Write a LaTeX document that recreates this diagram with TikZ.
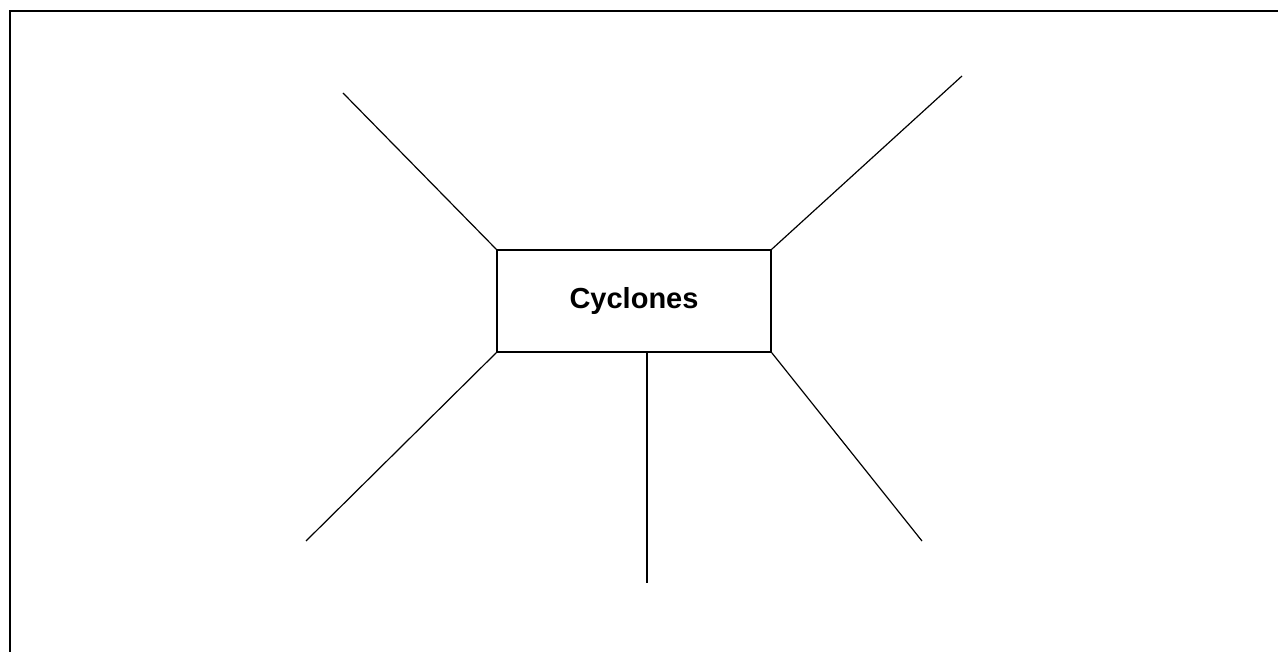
\documentclass[tikz,border=0pt]{standalone}
\usepackage{fontspec}
\setmainfont{Liberation Sans}
\begin{document}
\begin{tikzpicture}[x=1pt,y=-1pt,
    spoke/.style={line width=1.2pt},
    topic/.style={draw,line width=1.6pt,inner sep=0pt,
      minimum width=274pt,minimum height=102pt,
      font=\fontsize{29}{34}\selectfont\bfseries}]
		\useasboundingbox (0,0) rectangle (1278,652);
		\draw[line width=1.8pt] (10,660) -- (10,11) -- (1290,11);
		\node[topic] (cyclones) at (634,301) {Cyclones};
		\coordinate (ul) at (343,93);
		\coordinate (ur) at (962,76);
		\coordinate (ll) at (306,541);
		\coordinate (lr) at (922,541);
		\coordinate (bot) at (647,583);
		\draw[spoke] (cyclones.north west) -- (ul);
		\draw[spoke] (cyclones.north east) -- (ur);
		\draw[spoke] (cyclones.south west) -- (ll);
		\draw[spoke] (cyclones.south east) -- (lr);
		\draw[spoke] (cyclones.south -| bot) -- (bot);
	\end{tikzpicture}
\end{document}
